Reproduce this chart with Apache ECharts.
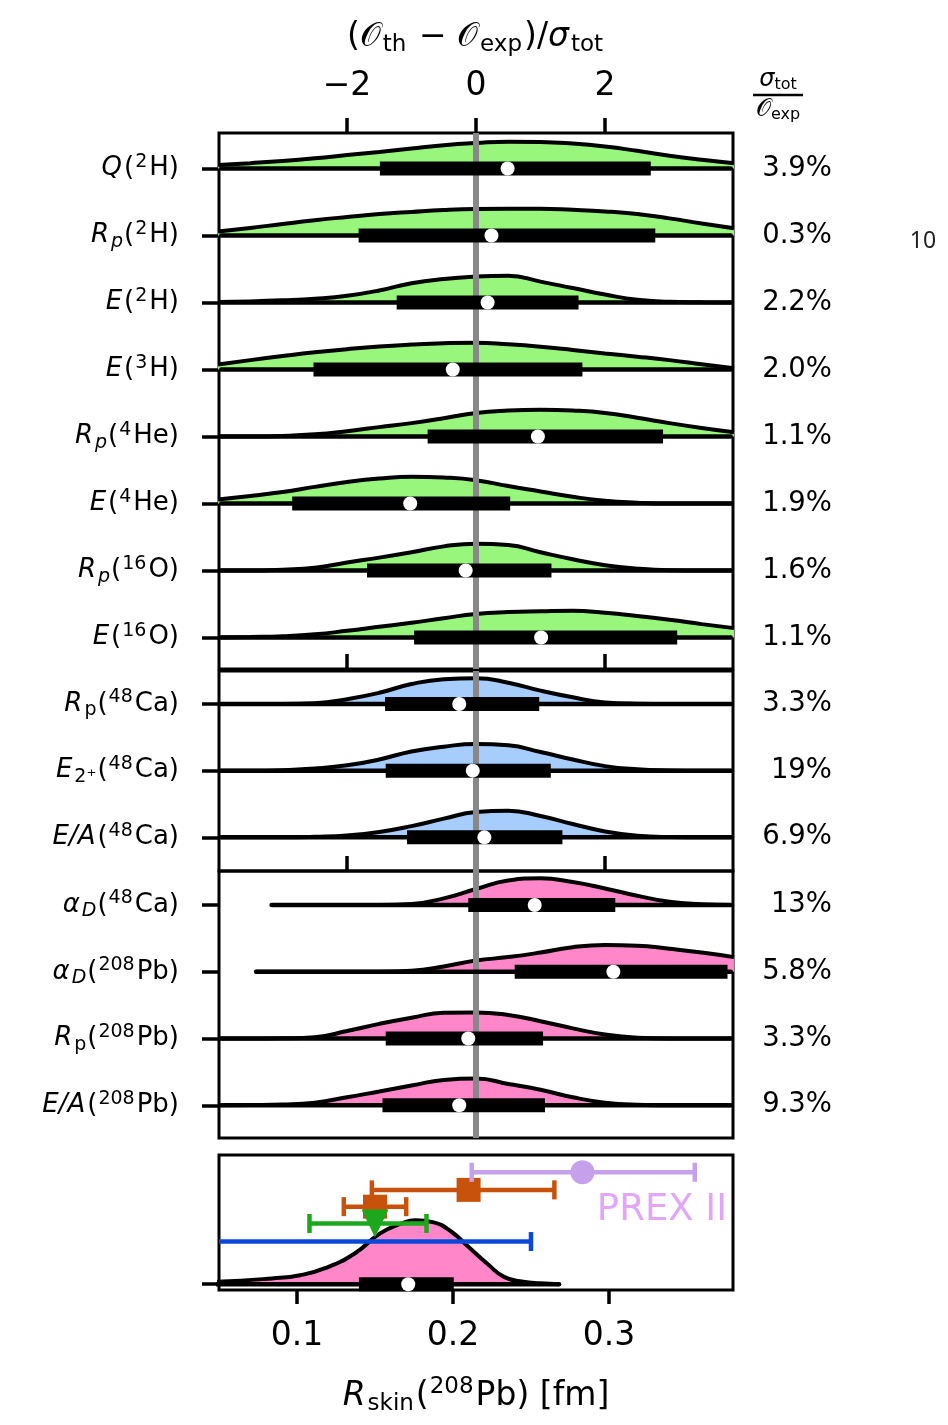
<!DOCTYPE html>
<html>
<head>
<meta charset="utf-8">
<script src="https://cdn.jsdelivr.net/npm/echarts@6/dist/echarts.min.js"></script>
<style>
html, body { margin: 0; padding: 0; background: #fff; }
#chart { width: 948px; height: 1425px; }
</style>
</head>
<body>
<div id="chart"></div>
<script>
// violin sample positions, in units of (O_th - O_exp)/sigma_tot
const gridX = [-4, -3.5, -3, -2.5, -2, -1.5, -1, -0.5, 0, 0.5, 1, 1.5, 2, 2.5, 3, 3.5, 4];
const sigmaTicks = [-2, 0, 2];
const skinTicks = [0.1, 0.2, 0.3];
const refX = 0;

// panel 1: light nuclei
const lightLabels = [
	'{i|Q}{n|(}{sup|2}{n|H)}',
	'{i|R}{isub|p}{n|(}{sup|2}{n|H)}',
	'{i|E}{n|(}{sup|2}{n|H)}',
	'{i|E}{n|(}{sup|3}{n|H)}',
	'{i|R}{isub|p}{n|(}{sup|4}{n|He)}',
	'{i|E}{n|(}{sup|4}{n|He)}',
	'{i|R}{isub|p}{n|(}{sup|16}{n|O)}',
	'{i|E}{n|(}{sup|16}{n|O)}',
];
const lightPct = ['3.9%', '0.3%', '2.2%', '2.0%', '1.1%', '1.9%', '1.6%', '1.1%'];
const lightDensity = [
	[0.13, 0.2, 0.28, 0.38, 0.5, 0.62, 0.75, 0.87, 0.95, 1.0, 0.99, 0.93, 0.82, 0.66, 0.48, 0.33, 0.2],
	[0.15, 0.28, 0.43, 0.57, 0.69, 0.8, 0.88, 0.95, 0.99, 1.0, 1.0, 0.96, 0.9, 0.8, 0.64, 0.45, 0.27],
	[0.02, 0.04, 0.08, 0.14, 0.25, 0.45, 0.72, 0.88, 0.97, 1.0, 0.78, 0.54, 0.3, 0.1, 0.03, 0.01, 0.0],
	[0.19, 0.35, 0.5, 0.64, 0.76, 0.86, 0.93, 0.98, 1.0, 0.94, 0.85, 0.73, 0.6, 0.48, 0.35, 0.2, 0.05],
	[0.0, 0.0, 0.02, 0.08, 0.2, 0.35, 0.5, 0.68, 0.88, 0.97, 1.0, 0.97, 0.88, 0.7, 0.5, 0.32, 0.16],
	[0.15, 0.28, 0.43, 0.62, 0.8, 0.93, 1.0, 0.97, 0.87, 0.65, 0.45, 0.25, 0.1, 0.03, 0.0, 0.0, 0.0],
	[0.0, 0.0, 0.03, 0.1, 0.3, 0.48, 0.68, 0.9, 1.0, 0.95, 0.68, 0.42, 0.2, 0.07, 0.01, 0.0, 0.0],
	[0.0, 0.02, 0.05, 0.12, 0.25, 0.4, 0.55, 0.72, 0.88, 0.95, 0.98, 1.0, 0.92, 0.8, 0.66, 0.5, 0.35],
];
const lightBox = [[-1.49, 2.71], [-1.82, 2.78], [-1.23, 1.59], [-2.52, 1.65], [-0.75, 2.9], [-2.85, 0.53], [-1.69, 1.17], [-0.96, 3.12]];
const lightMedian = [0.49, 0.24, 0.18, -0.36, 0.96, -1.02, -0.16, 1.01];
const lightStart = [null, null, null, null, null, null, null, null];

// panel 2: 48Ca
const caLabels = [
	'{i|R}{sub|p}{n|(}{sup|48}{n|Ca)}',
	'{i|E}{sub|2⁺}{n|(}{sup|48}{n|Ca)}',
	'{i|E/A}{n|(}{sup|48}{n|Ca)}',
];
const caPct = ['3.3%', '19%', '6.9%'];
const caDensity = [
	[0.0, 0.0, 0.0, 0.03, 0.18, 0.42, 0.75, 0.93, 0.97, 0.8, 0.5, 0.25, 0.06, 0.01, 0.0, 0.0, 0.0],
	[0.0, 0.0, 0.02, 0.08, 0.2, 0.42, 0.72, 0.9, 1.0, 0.95, 0.7, 0.42, 0.17, 0.05, 0.01, 0.0, 0.0],
	[0.0, 0.0, 0.0, 0.02, 0.07, 0.2, 0.42, 0.7, 0.95, 1.0, 0.8, 0.5, 0.22, 0.06, 0.01, 0.0, 0.0],
];
const caBox = [[-1.41, 0.98], [-1.4, 1.16], [-1.07, 1.34]];
const caMedian = [-0.26, -0.05, 0.13];
const caStart = [null, null, null];

// panel 3: polarizabilities and 208Pb
const pbLabels = [
	'{i|α}{isub|D}{n|(}{sup|48}{n|Ca)}',
	'{i|α}{isub|D}{n|(}{sup|208}{n|Pb)}',
	'{i|R}{sub|p}{n|(}{sup|208}{n|Pb)}',
	'{i|E/A}{n|(}{sup|208}{n|Pb)}',
];
const pbPct = ['13%', '5.8%', '3.3%', '9.3%'];
const pbDensity = [
	[0.0, 0.0, 0.0, 0.0, 0.0, 0.0, 0.04, 0.25, 0.6, 0.92, 1.0, 0.86, 0.62, 0.35, 0.12, 0.03, 0.0],
	[0.0, 0.0, 0.0, 0.0, 0.0, 0.0, 0.04, 0.2, 0.42, 0.55, 0.72, 0.92, 1.0, 0.98, 0.86, 0.72, 0.55],
	[0.0, 0.0, 0.01, 0.05, 0.28, 0.55, 0.78, 0.97, 0.98, 0.88, 0.65, 0.38, 0.15, 0.03, 0.0, 0.0, 0.0],
	[0.0, 0.01, 0.03, 0.1, 0.3, 0.52, 0.74, 0.95, 1.0, 0.8, 0.58, 0.3, 0.1, 0.02, 0.0, 0.0, 0.0],
];
const pbBox = [[-0.12, 2.16], [0.6, 3.9], [-1.4, 1.04], [-1.45, 1.07]];
const pbMedian = [0.91, 2.13, -0.12, -0.26];
const pbStart = [-3.17, -3.41, null, null];

// panel 4: R_skin(208Pb) in fm
const skinX = [0.0, 0.049, 0.084, 0.102, 0.118, 0.137, 0.153, 0.167, 0.176, 0.187, 0.199, 0.21, 0.222, 0.233, 0.245, 0.256, 0.268];
const skinDensity = [0.02, 0.04, 0.09, 0.14, 0.25, 0.48, 0.79, 0.95, 1.0, 0.97, 0.82, 0.58, 0.32, 0.11, 0.04, 0.015, 0.0];
const skinBox = [0.1397, 0.2005];
const skinMedian = 0.1713;

// experimental values (bottom to top)
const expCenter = [null, 0.15, 0.15, 0.21, 0.283];
const expLow = [-0.05, 0.108, 0.13, 0.148, 0.212];
const expHigh = [0.25, 0.183, 0.17, 0.265, 0.355];
const expRow = [0.33, 0.47, 0.6, 0.73, 0.866];
const expColor = ['#0b47d9', '#1ca71c', '#c8520c', '#c8520c', '#c6a0ea'];
const expSymbol = ['none', 'triangle', 'rect', 'rect', 'circle'];
const prexLabel = { text: 'PREX II', x: 0.334, y: 0.574 };

const F = 'DejaVu Sans';
const SIG_MIN = -3.985;
const SIG_MAX = 3.985;
const VH = 0.4; // violin peak height in row units
const SKIN_VH = 0.495;

const chart = echarts.init(document.getElementById('chart'));

const rowRich = {
	n: { fontSize: 26, lineHeight: 32, fontFamily: F, color: '#000' },
	i: { fontSize: 26, lineHeight: 32, fontFamily: F, fontStyle: 'italic', color: '#000', padding: [0, 2, 0, 0] },
	sup: { fontSize: 19, lineHeight: 19, fontFamily: F, verticalAlign: 'top', color: '#000', padding: [0, 2, 0, 1] },
	sub: { fontSize: 19, lineHeight: 19, fontFamily: F, verticalAlign: 'bottom', color: '#000', padding: [0, 1, 0, 0] },
	isub: { fontSize: 19, lineHeight: 19, fontFamily: F, fontStyle: 'italic', verticalAlign: 'bottom', color: '#000', padding: [0, 1, 0, 0] },
};

const bigRich = {
	n: { fontSize: 33, lineHeight: 40, fontFamily: F, color: '#000' },
	i: { fontSize: 33, lineHeight: 40, fontFamily: F, fontStyle: 'italic', color: '#000', padding: [0, 2, 0, 0] },
	c: { fontSize: 33, lineHeight: 40, fontFamily: F, color: '#000', padding: [0, 2, 0, 0] },
	sup: { fontSize: 23, lineHeight: 22, fontFamily: F, verticalAlign: 'top', color: '#000', padding: [0, 2, 0, 1] },
	sub: { fontSize: 23, lineHeight: 22, fontFamily: F, verticalAlign: 'bottom', color: '#000', padding: [0, 2, 0, 0] },
};

const grids = [
	{ left: 219, top: 133, width: 514, height: 536 },
	{ left: 219, top: 671, width: 514, height: 200 },
	{ left: 219, top: 871, width: 514, height: 267 },
	{ left: 219, top: 1155, width: 514, height: 135 },
].map(g => Object.assign(g, {
	show: true, borderColor: '#000', borderWidth: 3, backgroundColor: 'transparent', outerBoundsMode: 'none',
}));

const tickStyle = { color: '#000', width: 3.5 };
const noLine = { show: false, onZero: false };

function sigmaAxis(gridIndex, extra) {
	return Object.assign({
		type: 'value', gridIndex, min: SIG_MIN, max: SIG_MAX,
		axisLine: noLine, splitLine: { show: false },
		axisTick: { show: false }, axisLabel: { show: false },
	}, extra);
}

const xAxis = [
	sigmaAxis(0, {
		position: 'top',
		axisTick: { show: true, length: 15, lineStyle: tickStyle, customValues: sigmaTicks },
		axisLabel: {
			show: true, customValues: sigmaTicks, margin: 30, fontSize: 33, fontFamily: F, color: '#000',
			formatter: v => (v < 0 ? '\u2212' + (-v) : String(v)),
		},
		name: '{n|(}{c|𝒪}{sub|th}{n| − }{c|𝒪}{sub|exp}{n|)/}{i|σ}{sub|tot}',
		nameLocation: 'middle', nameGap: 76,
		nameTextStyle: { rich: bigRich },
	}),
	sigmaAxis(0, { position: 'bottom', axisTick: { show: true, inside: true, length: 15, lineStyle: tickStyle, customValues: sigmaTicks } }),
	sigmaAxis(1, { position: 'bottom', axisTick: { show: true, inside: true, length: 15, lineStyle: tickStyle, customValues: sigmaTicks } }),
	sigmaAxis(2, { position: 'bottom' }),
	{
		type: 'value', gridIndex: 3, min: 0.05, max: 0.3795, position: 'bottom',
		axisLine: noLine, splitLine: { show: false },
		axisTick: { show: true, length: 14, lineStyle: tickStyle, customValues: skinTicks },
		axisLabel: { customValues: skinTicks, margin: 30, fontSize: 33, fontFamily: F, color: '#000', formatter: v => v.toFixed(1) },
		name: '{i|R}{sub|skin}{n|(}{sup|208}{n|Pb) [fm]}',
		nameLocation: 'middle', nameGap: 86,
		nameTextStyle: { rich: bigRich },
	},
];

function rowAxes(gridIndex, labels, pct, min, max) {
	const n = labels.length;
	const vals = labels.map((_, i) => i);
	return [
		{
			type: 'value', gridIndex, min, max, position: 'left',
			axisLine: noLine, splitLine: { show: false },
			axisTick: { show: true, length: 17, lineStyle: tickStyle, customValues: vals },
			axisLabel: { customValues: vals, margin: 40, rich: rowRich, formatter: v => labels[n - 1 - v] },
		},
		{
			type: 'value', gridIndex, min, max, position: 'right',
			axisLine: noLine, splitLine: { show: false }, axisTick: { show: false },
			axisLabel: {
				customValues: vals, margin: 99, align: 'right', fontSize: 27.5, fontFamily: F, color: '#000',
				formatter: v => pct[n - 1 - v],
			},
		},
	];
}

const yAxis = [].concat(
	rowAxes(0, lightLabels, lightPct, -0.47, 7.53),
	rowAxes(1, caLabels, caPct, -0.505, 2.495),
	rowAxes(2, pbLabels, pbPct, -0.49, 3.51),
	[{
		type: 'value', gridIndex: 3, min: -0.045, max: 1, position: 'left',
		axisLine: noLine, splitLine: { show: false },
		axisTick: { show: true, length: 17, lineStyle: tickStyle, customValues: [0] },
		axisLabel: { show: false },
	}],
);

function violinSeries(xi, yi, dens, box, med, start, color) {
	const n = dens.length;
	const out = [];
	// keep round line ends inside the frame
	const inset = 0.035;
	dens.forEach((d, i) => {
		const y0 = n - 1 - i;
		const lo = start[i];
		const pts = [];
		if (lo !== null) pts.push([lo, y0]);
		gridX.forEach((x, k) => {
			if (lo === null || x >= lo) pts.push([x, y0 + d[k] * VH]);
		});
		out.push({
			type: 'line', xAxisIndex: xi, yAxisIndex: yi, data: pts, smooth: 0.5,
			showSymbol: false, symbol: 'none', clip: true, z: 2,
			lineStyle: { color: '#000', width: 4 },
			areaStyle: { color, opacity: 1, origin: y0 },
		});
		out.push({
			type: 'line', xAxisIndex: xi, yAxisIndex: yi,
			data: [[lo === null ? SIG_MIN + inset : lo, y0], [SIG_MAX - inset, y0]],
			showSymbol: false, symbol: 'none', clip: true, z: 4,
			lineStyle: { color: '#000', width: 4.5, cap: 'round' },
		});
		out.push({
			type: 'line', xAxisIndex: xi, yAxisIndex: yi, data: [[box[i][0], y0], [box[i][1], y0]],
			showSymbol: false, symbol: 'none', clip: true, z: 5,
			lineStyle: { color: '#000', width: 14, cap: 'butt' },
		});
	});
	out.push({
		type: 'scatter', xAxisIndex: xi, yAxisIndex: yi, z: 6,
		data: med.map((m, i) => [m, n - 1 - i]),
		symbol: 'circle', symbolSize: 14, itemStyle: { color: '#fff', opacity: 1 },
	});
	// reference line at zero deviation
	out.push({
		type: 'line', xAxisIndex: xi, yAxisIndex: yi, data: [], z: 3,
		markLine: {
			silent: true, symbol: 'none', label: { show: false }, z: 3,
			lineStyle: { color: '#888', width: 6, type: 'solid' },
			data: [{ xAxis: refX }],
		},
	});
	return out;
}

const series = [].concat(
	violinSeries(0, 0, lightDensity, lightBox, lightMedian, lightStart, '#98f67c'),
	violinSeries(2, 2, caDensity, caBox, caMedian, caStart, '#a6cdfb'),
	violinSeries(3, 4, pbDensity, pbBox, pbMedian, pbStart, '#ff87c9'),
);

// bottom panel violin
series.push({
	type: 'line', xAxisIndex: 4, yAxisIndex: 6, z: 2, clip: true,
	data: skinX.map((x, k) => [x, skinDensity[k] * SKIN_VH]),
	smooth: 0.5, showSymbol: false, symbol: 'none',
	lineStyle: { color: '#000', width: 4 },
	areaStyle: { color: '#ff87c9', opacity: 1, origin: 0 },
});
series.push({
	type: 'line', xAxisIndex: 4, yAxisIndex: 6, z: 3, clip: false,
	data: [[skinX[1] - 0.02, 0], [skinX[skinX.length - 1], 0]],
	showSymbol: false, symbol: 'none', lineStyle: { color: '#000', width: 4.5, cap: 'round' },
});
series.push({
	type: 'line', xAxisIndex: 4, yAxisIndex: 6, z: 4,
	data: [[skinBox[0], 0], [skinBox[1], 0]],
	showSymbol: false, symbol: 'none', lineStyle: { color: '#000', width: 14, cap: 'butt' },
});
series.push({
	type: 'scatter', xAxisIndex: 4, yAxisIndex: 6, z: 5,
	data: [[skinMedian, 0]], symbol: 'circle', symbolSize: 14, itemStyle: { color: '#fff', opacity: 1 },
});

// experimental error bars
const order = [0, 2, 3, 1, 4];
order.forEach((k, j) => {
	series.push({
		type: 'custom', xAxisIndex: 4, yAxisIndex: 6, z: 10 + j * 2,
		data: [[expLow[k], expHigh[k], expRow[k]]],
		renderItem: (params, api) => {
			const a = api.coord([api.value(0), api.value(2)]);
			const b = api.coord([api.value(1), api.value(2)]);
			const cs = params.coordSys;
			const st = { stroke: expColor[k], lineWidth: 4.5 };
			return {
				type: 'group',
				clipPath: { type: 'rect', shape: { x: cs.x, y: cs.y, width: cs.width, height: cs.height } },
				children: [
					{ type: 'line', shape: { x1: a[0], y1: a[1], x2: b[0], y2: b[1] }, style: st },
					{ type: 'line', shape: { x1: a[0], y1: a[1] - 9.5, x2: a[0], y2: a[1] + 9.5 }, style: st },
					{ type: 'line', shape: { x1: b[0], y1: b[1] - 9.5, x2: b[0], y2: b[1] + 9.5 }, style: st },
				],
			};
		},
	});
	if (expCenter[k] !== null) {
		series.push({
			type: 'scatter', xAxisIndex: 4, yAxisIndex: 6, z: 11 + j * 2,
			data: [[expCenter[k], expRow[k]]],
			symbol: expSymbol[k], symbolSize: expSymbol[k] === 'triangle' ? [27, 28] : 24,
			symbolRotate: expSymbol[k] === 'triangle' ? 180 : 0,
			itemStyle: { color: expColor[k], opacity: 1 },
		});
	}
});

series.push({
	type: 'scatter', xAxisIndex: 4, yAxisIndex: 6, z: 20,
	data: [[prexLabel.x, prexLabel.y]], symbolSize: 0,
	label: {
		show: true, position: 'inside', formatter: prexLabel.text,
		fontSize: 37, fontFamily: F, color: '#d990f2',
	},
});

chart.setOption({
	animation: false,
	backgroundColor: '#fff',
	grid: grids,
	xAxis,
	yAxis,
	series,
	graphic: [
		{
			type: 'text', x: 778, y: 80, z: 10,
			style: { text: '{i|σ}{s|tot}', align: 'center', verticalAlign: 'middle', rich: {
				i: { fontSize: 24, fontFamily: F, fontStyle: 'italic', color: '#000', lineHeight: 26 },
				s: { fontSize: 16, fontFamily: F, color: '#000', verticalAlign: 'bottom', lineHeight: 16 },
			} },
		},
		{ type: 'line', shape: { x1: 753, y1: 95, x2: 803, y2: 95 }, style: { stroke: '#000', lineWidth: 2.5 } },
		{
			type: 'text', x: 778, y: 110, z: 10,
			style: { text: '{c|𝒪}{s|exp}', align: 'center', verticalAlign: 'middle', rich: {
				c: { fontSize: 24, fontFamily: F, color: '#000', lineHeight: 26 },
				s: { fontSize: 16, fontFamily: F, color: '#000', verticalAlign: 'bottom', lineHeight: 16 },
			} },
		},
		{ type: 'text', x: 923, y: 241, style: { text: '10', fontSize: 23, fontFamily: 'Noto Sans', fill: '#222', align: 'center', verticalAlign: 'middle' } },
	],
});
</script>
</body>
</html>
